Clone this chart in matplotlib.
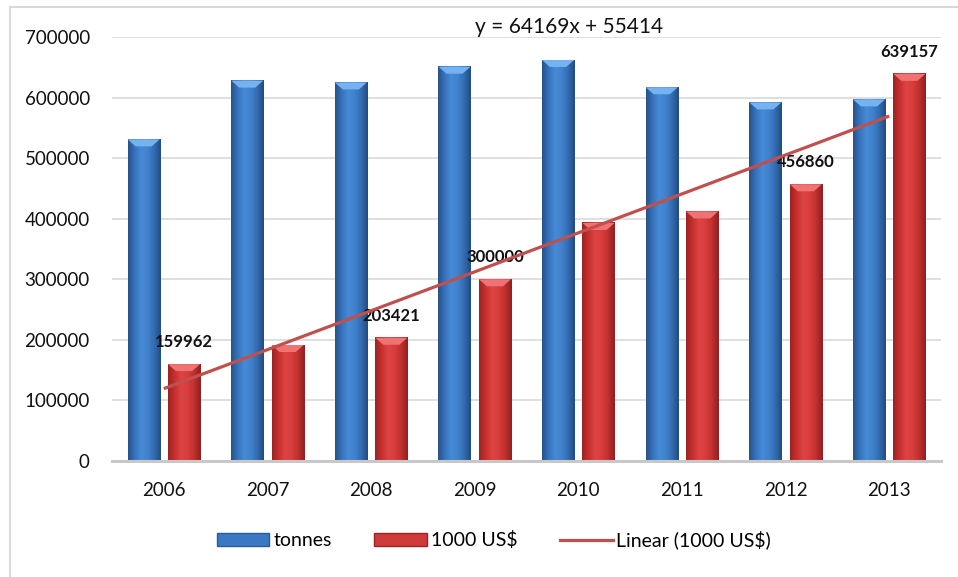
import numpy as np
import matplotlib
matplotlib.use("Agg")
import matplotlib.pyplot as plt
from matplotlib.colors import LinearSegmentedColormap
from matplotlib.patches import Polygon, Patch
from matplotlib.lines import Line2D

# ---- data ----
years = ["2006", "2007", "2008", "2009", "2010", "2011", "2012", "2013"]
tonnes = [531000, 628000, 625000, 651000, 662000, 617000, 592000, 597000]
usd = [159962, 191500, 203421, 300000, 393000, 412000, 456860, 639157]
labelled = [0, 2, 3, 6, 7]          # bars of 1000 US$ with a data label
equation = "y = 64169x + 55414"
series_names = ["tonnes", "1000 US$", "Linear (1000 US$)"]

plt.rcParams['font.family'] = ['Lato', 'DejaVu Sans']

W, H = 958, 577
fig = plt.figure(figsize=(W / 100, H / 100), dpi=100)
ax = fig.add_axes([112 / W, 1 - 461 / H, 829 / W, 424 / H])

x = np.arange(len(years))
bw = 0.31
off = 0.195

blue_cmap = LinearSegmentedColormap.from_list(
    "b", ["#27528a", "#3673bd", "#468ad6", "#4182cd", "#336cb1", "#244c80"])
red_cmap = LinearSegmentedColormap.from_list(
    "r", ["#9c2322", "#c7302f", "#de4444", "#d73d3c", "#bf302f", "#8f2020"])

ax.set_xlim(-0.5, len(years) - 0.5)
ax.set_ylim(0, 700000)

bars_b = ax.bar(x - off, tonnes, bw, color="#3a78c4", zorder=2)
bars_r = ax.bar(x + off, usd, bw, color="#cf3a3a", zorder=2)

fig.canvas.draw()
px_per_y = (ax.transData.transform((0, 100000))[1] - ax.transData.transform((0, 0))[1]) / 100000
bevel_h = 7 / px_per_y

grad = np.linspace(0, 1, 64).reshape(1, -1)
for bars, cmap, cap in [(bars_b, blue_cmap, "#74b2f0"), (bars_r, red_cmap, "#f07272")]:
    for r in bars:
        x0, w, h = r.get_x(), r.get_width(), r.get_height()
        ax.imshow(grad, cmap=cmap, extent=[x0, x0 + w, 0, h], aspect="auto",
                  interpolation="bicubic", zorder=3)
        ins = w * 0.25
        poly = Polygon([(x0, h), (x0 + w, h), (x0 + w - ins, h - bevel_h), (x0 + ins, h - bevel_h)],
                       closed=True, facecolor=cap, edgecolor="none", zorder=4)
        ax.add_patch(poly)

ax.set_xlim(-0.5, len(years) - 0.5)
ax.set_ylim(0, 700000)

# trendline from data
coef = np.polyfit(x + 1, usd, 1)
tx = np.array([x[0], x[-1]])
ax.plot(tx, np.polyval(coef, tx + 1), color="#c0504d", lw=2.3, zorder=6, solid_capstyle="butt")

# data labels
for i in labelled:
    ax.annotate(f"{usd[i]}", (x[i] + off, usd[i]), xytext=(0, 22), textcoords="offset pixels",
                ha="center", va="center", fontsize=12, fontweight="bold", color="#111111", zorder=5)

ax.text((569 - 112) / 829, (461 - 27) / 424, equation, transform=ax.transAxes,
        ha="center", va="center", fontsize=15, color="#111111")

# axes styling
ax.set_yticks(np.arange(0, 700001, 100000))
ax.set_yticklabels([f"{v}" for v in range(0, 700001, 100000)])
ax.set_xticks(x)
ax.set_xticklabels(years)
ax.tick_params(axis="y", length=0, pad=16, labelsize=13.5, labelcolor="#111111")
ax.tick_params(axis="x", length=0, pad=15, labelsize=13.5, labelcolor="#111111")
ax.grid(axis="y", color="#d9d9d9", lw=1.2, zorder=0)
ax.set_axisbelow(True)
for s in ["top", "right", "left"]:
    ax.spines[s].set_visible(False)
ax.spines["bottom"].set_color("#c8c8c8")
ax.spines["bottom"].set_linewidth(2.2)
ax.spines["bottom"].set_zorder(5)

# legend
handles = [Patch(facecolor="#3a78c4", edgecolor="#2a5c9a"),
           Patch(facecolor="#cf3a3a", edgecolor="#9c2322"),
           Line2D([0], [0], color="#c0504d", lw=2.3)]
fig.legend(handles, series_names, loc="center", bbox_to_anchor=(494 / W, 1 - 540 / H),
           ncol=3, frameon=False, fontsize=14, handlelength=2.7, handleheight=0.6,
           handletextpad=0.2, columnspacing=2.2)

# chart border (left and top visible)
fig.add_artist(Line2D([10 / W, 10 / W], [0, 1 - 7 / H], color="#d9d9d9", lw=1.5))
fig.add_artist(Line2D([10 / W, 1], [1 - 7 / H, 1 - 7 / H], color="#d9d9d9", lw=1.5))

fig.savefig("out.png", dpi=100)
